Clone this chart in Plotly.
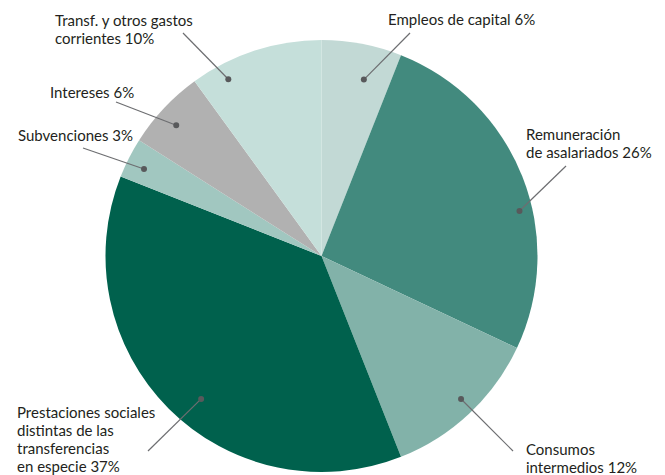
import math
import plotly.graph_objects as go

# ---- data ----
categories = [
    "Empleos de capital",
    "Remuneración de asalariados",
    "Consumos intermedios",
    "Prestaciones sociales distintas de las transferencias en especie",
    "Subvenciones",
    "Intereses",
    "Transf. y otros gastos corrientes",
]
values = [6, 26, 12, 37, 3, 6, 10]
label_lines = [
    ["Empleos de capital 6%"],
    ["Remuneración", "de asalariados 26%"],
    ["Consumos", "intermedios 12%"],
    ["Prestaciones sociales", "distintas de las", "transferencias", "en especie 37%"],
    ["Subvenciones 3%"],
    ["Intereses 6%"],
    ["Transf. y otros gastos", "corrientes 10%"],
]
colors = ["#c2d9d5", "#428a7e", "#82b2a9", "#00614d", "#a1c7c0", "#b1b1b1", "#c5dfda"]

# ---- layout geometry (pixels) ----
W, H = 665, 475
CX, CY, R = 321.5, 256, 216
LINE_H = 18.3
# leader dot: angle offset from slice middle (deg), radius fraction
dot_style = [(2.7, 0.84), (8.8, 0.94), (-1.1, 0.925), (-4.9, 0.865), (-0.9, 0.915), (-1.2, 0.905), (-9.8, 0.925)]
# label anchor (left x, first line center y) and leader-line end (x, y)
label_pos = [(386, 19), (524, 133.5), (524, 449), (15, 411.5), (16, 135), (48, 92), (53, 20)]
line_end = [(410, 33), (566, 166), (513, 451), (148, 451), (83, 148), (116, 102), (183, 33)]


def px(x):
    return x / W


def py(y):
    return 1 - y / H


fig = go.Figure(go.Pie(
    labels=categories,
    values=values,
    sort=False,
    direction="clockwise",
    rotation=0,
    marker=dict(colors=colors, line=dict(width=0)),
    textinfo="none",
    hoverinfo="label+percent",
    domain=dict(x=[px(CX - R), px(CX + R)], y=[py(CY + R), py(CY - R)]),
    showlegend=False,
))

total = sum(values)
cum = 0
shapes = []
annotations = []
for i, v in enumerate(values):
    mid = (cum + v / 2) / total * 360
    cum += v
    off, rf = dot_style[i]
    a = math.radians(mid + off)
    dx = CX + rf * R * math.sin(a)
    dy = CY - rf * R * math.cos(a)
    ex, ey = line_end[i]
    shapes.append(dict(type="line", xref="paper", yref="paper",
                       x0=px(dx), y0=py(dy), x1=px(ex), y1=py(ey),
                       line=dict(color="#6d6e71", width=1.2)))
    shapes.append(dict(type="circle", xref="paper", yref="paper",
                       x0=px(dx - 3), x1=px(dx + 3), y0=py(dy + 3), y1=py(dy - 3),
                       fillcolor="#58595b", line=dict(width=0)))
    lx, ly = label_pos[i]
    for j, t in enumerate(label_lines[i]):
        annotations.append(dict(text=t, xref="paper", yref="paper",
                                x=px(lx), y=py(ly + j * LINE_H),
                                xanchor="left", yanchor="middle",
                                align="left", showarrow=False,
                                font=dict(family="Lato", size=15, color="#231f20")))

fig.update_layout(
    width=W, height=H,
    margin=dict(l=0, r=0, t=0, b=0),
    paper_bgcolor="white",
    plot_bgcolor="white",
    shapes=shapes,
    annotations=annotations,
)

fig.write_html("out.html", config={"displayModeBar": False},
               post_script="document.body.style.margin='0';")
